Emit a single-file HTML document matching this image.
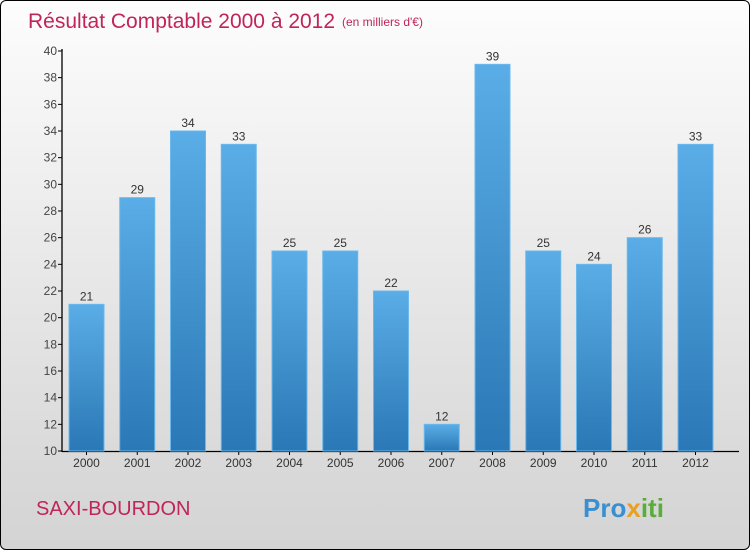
<!DOCTYPE html>
<html><head><meta charset="utf-8"><style>
html,body{margin:0;padding:0}
body{width:750px;height:550px;overflow:hidden;font-family:"Liberation Sans",sans-serif}
#frame{position:absolute;left:0;top:0;width:748px;height:548px;border:1px solid #000;border-radius:6px;background:linear-gradient(#fdfdfd,#f0f0f0 30%,#d9d9d9 85%,#d4d4d4);overflow:hidden}
</style></head><body>
<div id="frame">
<svg id="chart" width="750" height="550">
<defs><linearGradient id="bg" x1="0" y1="0" x2="0" y2="1"><stop offset="0" stop-color="#5aade6"/><stop offset="1" stop-color="#2a78b6"/></linearGradient></defs>
<text x="27" y="27" font-size="21" fill="#c0245a">Résultat Comptable 2000 à 2012</text>
<text x="341" y="25" font-size="12" fill="#c0245a">(en milliers d'€)</text>
<text x="35" y="514" font-size="20" fill="#c0245a">SAXI-BOURDON</text>
<text x="582" y="516" font-size="26" font-weight="bold"><tspan fill="#3a8fd0">Pro</tspan><tspan fill="#e8a020">x</tspan><tspan fill="#5aad3a">iti</tspan></text>
<g id="axes"></g><g id="bars"></g>
</svg>
</div>
<script>
const years=["2000","2001","2002","2003","2004","2005","2006","2007","2008","2009","2010","2011","2012"];
const values=[21,29,34,33,25,25,22,12,39,25,24,26,33];
const yTicks=[10,12,14,16,18,20,22,24,26,28,30,32,34,36,38,40];
const NS="http://www.w3.org/2000/svg";
const y=v=>450-(v-10)*(400/30);
const x=i=>68+i*50.75;
const bw=35;
function mk(t,a,p){const e=document.createElementNS(NS,t);for(const k in a)e.setAttribute(k,a[k]);p.appendChild(e);return e;}
const ax=document.getElementById('axes'),bars=document.getElementById('bars');
const yl=mk('line',{x1:61,y1:48,x2:61,y2:451,stroke:'#000','stroke-width':1.3},ax);


const xl=mk('line',{x1:61,y1:450.5,x2:738,y2:450.5,stroke:'#000','stroke-width':1.3},ax);


yTicks.forEach(t=>{
 mk('line',{x1:57,y1:y(t),x2:61,y2:y(t),stroke:'#000'},ax);
 const tx=mk('text',{x:56,y:y(t)+4,'font-size':12,'text-anchor':'end',fill:'#444'},ax);tx.textContent=t;
 
 
});
years.forEach((yr,i)=>{
 const v=values[i];
 const r=mk('rect',{x:x(i),y:y(v),width:bw,height:450-y(v),fill:'url(#bg)',stroke:'#6bb8ec','stroke-width':1},bars);
 
 
 const l=mk('text',{x:x(i)+bw/2,y:y(v)-4,'font-size':12,'text-anchor':'middle',fill:'#333'},bars);l.textContent=v;
 
 
 mk('line',{x1:x(i)+bw/2,y1:450,x2:x(i)+bw/2,y2:454,stroke:'#000'},ax);
 const xt=mk('text',{x:x(i)+bw/2,y:466,'font-size':12,'text-anchor':'middle',fill:'#333'},ax);xt.textContent=yr;
 
 
});
</script>
</body></html>
